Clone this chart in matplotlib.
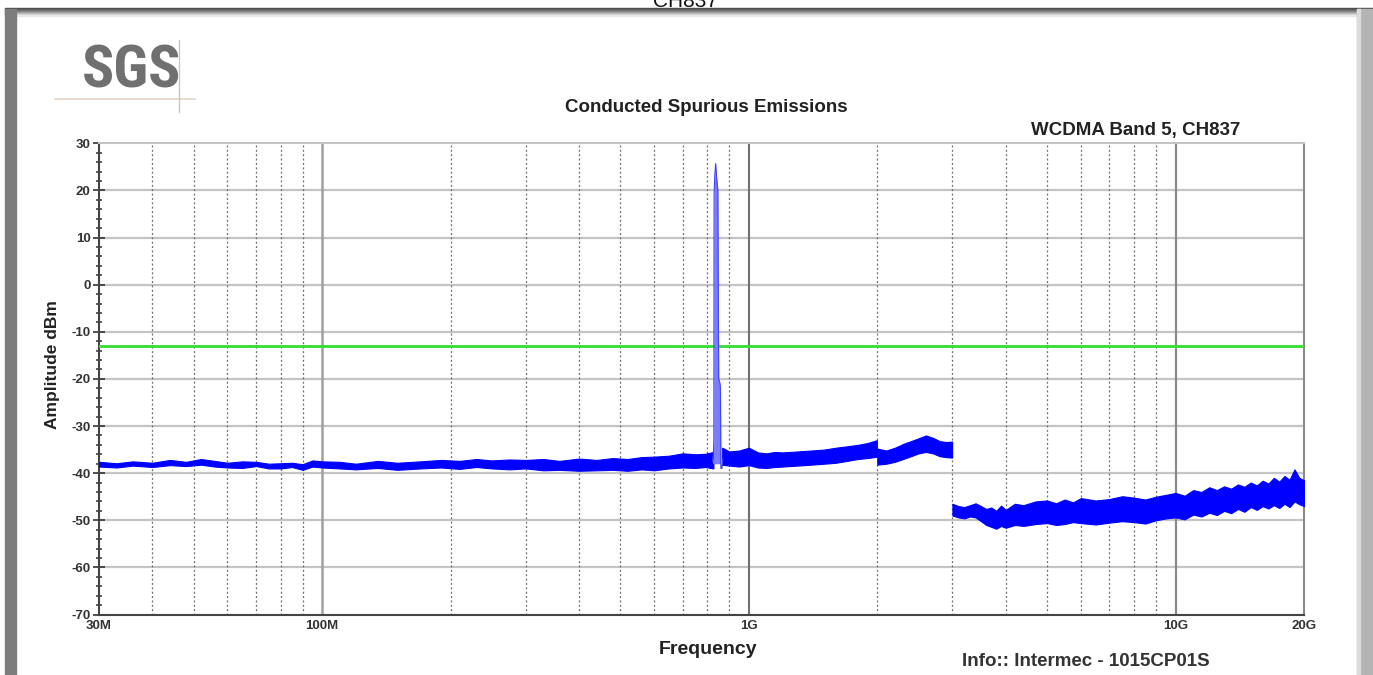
import numpy as np
import matplotlib.pyplot as plt
from matplotlib.patches import Rectangle
from matplotlib.lines import Line2D
from matplotlib.ticker import FixedLocator, NullFormatter

# 測定データ（画像から読み取り、周波数 MHz / dBm の上下包絡）
f_low = [30, 33, 36, 40, 44, 48, 52, 56, 60, 65, 70, 75, 80, 85, 90, 95, 100, 110, 120, 135, 150,
         170, 190, 210, 230, 250, 275, 300, 330, 360, 400, 440, 480, 520, 560, 600, 650, 700, 750, 790, 826]
hi_low = [-37.6, -37.9, -37.5, -37.8, -37.2, -37.6, -37.0, -37.4, -37.8, -37.5, -37.6, -38.0, -37.9, -37.8,
          -38.1, -37.3, -37.5, -37.6, -38.0, -37.4, -37.8, -37.5, -37.2, -37.4, -37.0, -37.3, -37.1, -37.2,
          -37.0, -37.4, -36.9, -37.2, -36.8, -37.0, -36.6, -36.5, -36.3, -35.8, -36.0, -35.9, -35.5]
lo_low = [-38.6, -38.8, -38.4, -38.7, -38.3, -38.5, -38.2, -38.6, -38.8, -38.9, -38.5, -39.0, -39.0, -38.7,
          -39.3, -38.6, -38.8, -39.0, -39.2, -38.9, -39.3, -39.0, -38.8, -39.1, -38.7, -39.0, -39.2, -39.0,
          -39.4, -39.3, -39.5, -39.4, -39.3, -39.5, -39.2, -39.4, -39.0, -38.8, -38.9, -38.7, -39.0]

# キャリア (CH837)
f_peak = [822, 826, 828, 829, 832, 836, 840, 846, 850, 856, 858, 860, 864, 870]
v_peak = [-37.5, -36.0, -33.0, 19.0, 23.0, 25.7, 23.0, 20.0, -20.0, -21.0, -22.0, -39.0, -39.0, -37.0]

f_mid = [866, 900, 950, 1000, 1050, 1100, 1150, 1200, 1300, 1400, 1500, 1600, 1700, 1800, 1900, 1995]
hi_mid = [-34.6, -35.4, -35.2, -34.6, -35.6, -35.8, -35.5, -35.6, -35.4, -35.2, -35.0, -34.6, -34.3,
          -34.0, -33.6, -33.0]
lo_mid = [-38.2, -38.4, -38.6, -38.3, -38.8, -38.9, -38.7, -38.6, -38.4, -38.2, -38.0, -37.8, -37.4,
          -37.0, -36.8, -36.5]

f_band2 = [2000, 2100, 2200, 2300, 2400, 2500, 2600, 2700, 2800, 2900, 2995]
hi_band2 = [-34.8, -35.2, -34.6, -33.8, -33.2, -32.6, -32.0, -32.5, -33.2, -33.4, -33.3]
lo_band2 = [-38.2, -38.0, -37.6, -37.0, -36.4, -35.8, -35.5, -35.8, -36.4, -36.6, -36.7]

f_high = [3000, 3100, 3200, 3300, 3400, 3500, 3600, 3700, 3800, 3900, 4000, 4200, 4400, 4700, 5000,
          5250, 5500, 5750, 6000, 6500, 7000, 7500, 8000, 8500, 9000, 9500, 10000, 10500, 11000, 11500,
          12000, 12500, 13000, 13500, 14000, 14500, 15000, 15500, 16000, 16500, 17000, 17500, 18000,
          18500, 19000, 19500, 20000]
hi_high = [-46.5, -47.0, -47.2, -46.8, -46.4, -47.0, -47.6, -47.3, -48.0, -46.9, -47.8, -46.5, -46.8,
           -46.0, -45.8, -46.4, -45.6, -46.2, -45.3, -45.8, -45.5, -44.9, -45.2, -45.6, -45.0, -44.6,
           -44.2, -44.8, -43.6, -44.0, -43.0, -43.6, -42.8, -43.3, -42.4, -42.9, -42.0, -42.6, -41.6,
           -42.2, -41.0, -41.8, -40.6, -41.4, -39.2, -41.0, -41.5]
lo_high = [-49.0, -49.4, -49.6, -49.2, -49.4, -50.2, -51.0, -51.4, -51.8, -51.2, -51.6, -51.0, -51.2,
           -50.8, -50.6, -51.0, -50.8, -50.4, -50.6, -50.9, -50.5, -50.2, -50.4, -50.7, -50.0, -49.6,
           -49.4, -49.8, -48.8, -49.2, -48.4, -48.9, -48.0, -48.5, -47.6, -48.2, -47.2, -47.8, -47.0,
           -47.5, -46.8, -47.4, -46.5, -47.2, -46.0, -46.6, -47.0]

limit_dbm = -13.0

xtick_pos = [30, 100, 1000, 10000, 20000]
xtick_lab = ['30M', '100M', '1G', '10G', '20G']
ytick_pos = [30, 20, 10, 0, -10, -20, -30, -40, -50, -60, -70]
minor_x = [40, 50, 60, 70, 80, 90, 200, 300, 400, 500, 600, 700, 800, 900,
           2000, 3000, 4000, 5000, 6000, 7000, 8000, 9000]

W, H = 1373, 675
plt.rcParams['font.family'] = ['Liberation Sans', 'DejaVu Sans']
plt.rcParams['axes.unicode_minus'] = False
fig = plt.figure(figsize=(W / 100, H / 100), dpi=100)


def px(x, y):
    return x / W, 1 - y / H


# 枠
for i, c in enumerate(['#4a4a4a', '#5c5c5c', '#6e6e6e', '#828282', '#999999', '#b3b3b3', '#cfcfcf', '#e8e8e8']):
    fig.patches.append(Rectangle(px(5, 9 + i), (W - 5) / W, 1 / H, transform=fig.transFigure,
                                 color=c, zorder=0))
fig.patches.append(Rectangle(px(5, H), 11 / W, (H - 9) / H, transform=fig.transFigure,
                             color='#7d7d7d', zorder=0))
fig.patches.append(Rectangle(px(1357, H), 16 / W, (H - 9) / H, transform=fig.transFigure,
                             color='#b4b4b4', zorder=0))
fig.patches.append(Rectangle(px(1357, H), 3 / W, (H - 9) / H, transform=fig.transFigure,
                             color='#dcdcdc', zorder=0))

# ロゴ
fig.text(*px(132, 72), 'SGS', ha='center', va='center', fontsize=43, fontweight='bold',
         fontstretch='condensed', color='#707070', family=['Roboto Condensed', 'DejaVu Sans'])
fig.lines.append(Line2D([55 / W, 195 / W], [1 - 99 / H, 1 - 99 / H], transform=fig.transFigure,
                        color='#e2d4c8', lw=1.2))
fig.lines.append(Line2D([179 / W, 179 / W], [1 - 40 / H, 1 - 112 / H], transform=fig.transFigure,
                        color='#d9c2b4', lw=1))

fig.text(*px(686, 7), 'CH837', ha='center', va='baseline', fontsize=15, color='#111111')
fig.text(*px(706, 107), 'Conducted Spurious Emissions', ha='center', va='center',
         fontsize=13.5, fontweight='bold', color='#222222')
fig.text(*px(1136, 130), 'WCDMA Band 5, CH837', ha='center', va='center',
         fontsize=13.5, fontweight='bold', color='#222222')
fig.text(*px(53, 365), 'Amplitude dBm', ha='center', va='center', rotation=90,
         fontsize=12.5, fontweight='bold', color='#222222')
fig.text(*px(708, 650), 'Frequency', ha='center', va='center',
         fontsize=14, fontweight='bold', color='#222222')
fig.text(*px(1086, 662), 'Info:: Intermec - 1015CP01S', ha='center', va='center',
         fontsize=13.5, fontweight='bold', color='#333333')

ax = fig.add_axes([99 / W, 1 - 614.5 / H, (1304 - 99) / W, (614.5 - 143.3) / H])
ax.set_xscale('log')
ax.set_xlim(30, 20000)
ax.set_ylim(-70, 30)

# グリッド
for y in ytick_pos[1:-1]:
    ax.axhline(y, color='#c4c4c4', lw=1.6, zorder=1)
for x in minor_x:
    ax.axvline(x, color='#6a6a6a', lw=0.9, ls=(0, (1.5, 2)), zorder=1)
ax.axvline(100, color='#a0a0a0', lw=1.8, zorder=1)
ax.axvline(1000, color='#707070', lw=1.5, zorder=1)
ax.axvline(10000, color='#8a8a8a', lw=1.6, zorder=1)

# 制限線
ax.axhline(limit_dbm, color='#33dd33', lw=2, zorder=3)

# トレース
blue = '#0000ff'
ax.fill_between(f_low, lo_low, hi_low, color=blue, lw=0.8, zorder=4)
ax.fill_between(f_peak, [-38] * len(f_peak), v_peak, color='#7c7cff', lw=0, zorder=4)
ax.plot(f_peak, v_peak, color='#4040ff', lw=0.8, zorder=5)
ax.fill_between(f_mid, lo_mid, hi_mid, color=blue, lw=0.8, zorder=4)
ax.fill_between(f_band2, lo_band2, hi_band2, color=blue, lw=0.8, zorder=4)
ax.fill_between(f_high, lo_high, hi_high, color=blue, lw=0.8, zorder=4)

# 軸
ax.xaxis.set_major_locator(FixedLocator(xtick_pos))
ax.xaxis.set_minor_locator(FixedLocator([]))
ax.set_xticklabels(xtick_lab)
ax.xaxis.set_minor_formatter(NullFormatter())
ax.set_yticks(ytick_pos)
ax.set_yticks(np.arange(-70, 31, 2), minor=True)
ax.tick_params(axis='x', length=0, pad=4, labelsize=9.5, labelcolor='#333333')
ax.tick_params(axis='y', which='major', direction='inout', length=8, width=1.2, pad=2,
               labelsize=9.5, labelcolor='#333333', color='#333333')
ax.tick_params(axis='y', which='minor', direction='inout', length=4, width=1.2, color='#444444')
for lab in ax.get_xticklabels() + ax.get_yticklabels():
    lab.set_fontweight('bold')

ax.spines['left'].set_color('#444444')
ax.spines['left'].set_linewidth(1.5)
ax.spines['bottom'].set_color('#444444')
ax.spines['bottom'].set_linewidth(1.5)
ax.spines['top'].set_color('#c4c4c4')
ax.spines['top'].set_linewidth(1.5)
ax.spines['right'].set_color('#8a8a8a')
ax.spines['right'].set_linewidth(1.5)

fig.savefig('out.png', dpi=100)
